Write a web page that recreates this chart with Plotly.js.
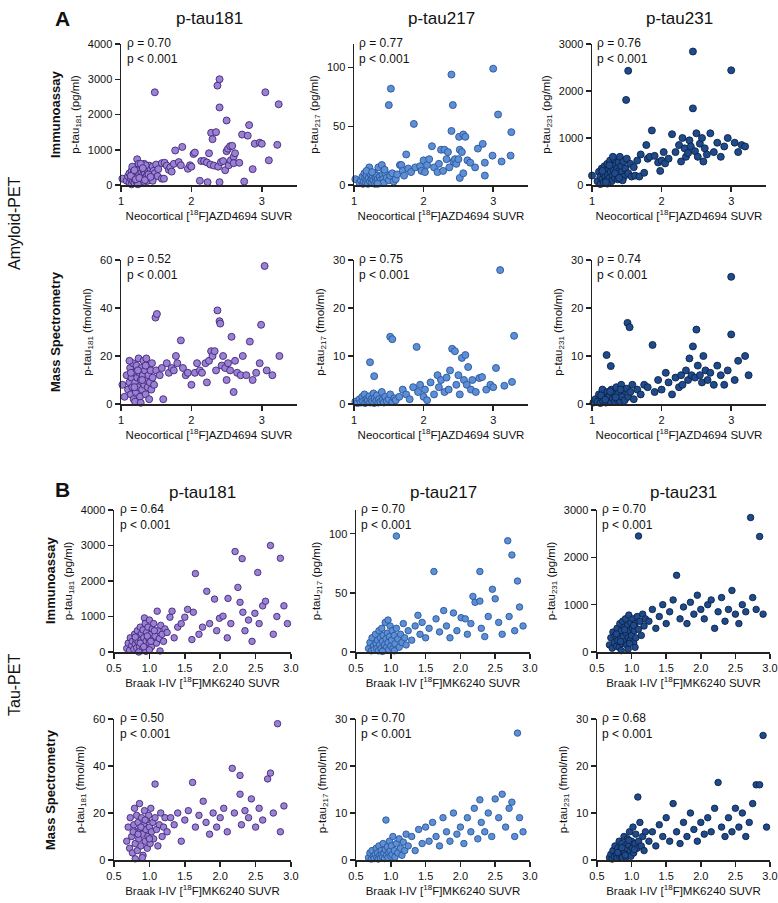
<!DOCTYPE html>
<html>
<head>
<meta charset="utf-8">
<script src="https://cdn.plot.ly/plotly-3.0.1.min.js"></script>
<style>
  body { margin: 0; background: #fff; }
  #chart { width: 778px; height: 903px; }
</style>
</head>
<body>
<div id="chart"></div>
<script>
// ================= Data: [SUVR, concentration] per participant =================
// Amyloid-PET (Neocortical [18F]AZD4694 SUVR)
const amyImm181 = [[1.02,180],[1.08,120],[1.1,250],[1.12,60],[1.12,330],[1.14,180],[1.15,20],[1.15,400],[1.16,280],[1.17,120],[1.18,220],[1.18,350],[1.19,60],[1.2,450],[1.2,180],[1.21,300],[1.22,100],[1.22,520],[1.23,730],[1.23,250],[1.24,380],[1.25,150],[1.25,600],[1.26,300],[1.27,80],[1.27,450],[1.28,220],[1.29,350],[1.3,150],[1.3,520],[1.31,280],[1.32,420],[1.33,90],[1.33,600],[1.34,330],[1.35,200],[1.36,480],[1.37,280],[1.38,120],[1.38,400],[1.4,550],[1.4,250],[1.41,350],[1.42,450],[1.43,180],[1.44,300],[1.45,520],[1.46,400],[1.48,330],[1.5,580],[1.52,250],[1.53,450],[1.16,520],[1.24,20],[1.35,560],[1.28,600],[1.45,120],[1.14,260],[1.19,420],[1.21,160],[1.26,200],[1.31,480],[1.34,140],[1.39,300],[1.42,230],
  [1.48,2630],[1.58,180],[1.61,180],[1.58,620],[1.62,630],[1.65,550],[1.68,430],[1.7,500],[1.72,380],[1.75,600],[1.77,980],[1.82,650],[1.85,560],[1.87,1080],[1.95,460],[1.98,560],[2.0,520],[2.03,880],[2.05,920],[2.12,120],[2.14,680],[2.18,680],[2.22,640],[2.23,80],[2.25,900],[2.27,580],[2.28,1480],[2.3,1300],[2.32,550],[2.35,1500],[2.37,2820],[2.38,520],[2.4,3000],[2.4,2200],[2.4,80],[2.42,650],[2.45,680],[2.48,420],[2.5,1830],[2.5,960],[2.52,1030],[2.53,560],[2.55,1100],[2.56,700],[2.58,1110],[2.6,800],[2.6,620],[2.62,900],[2.68,630],[2.72,1430],[2.75,100],[2.8,1400],[2.82,1700],[2.87,450],[2.9,1170],[2.97,1200],[3.0,1170],[3.05,2630],[3.1,700],[3.22,1140],[3.24,2290]];
const amyImm217 = [[1.02,5],[1.08,2],[1.1,4],[1.12,7],[1.13,1],[1.14,3],[1.15,10],[1.16,6],[1.17,2],[1.18,8],[1.19,4],[1.2,1],[1.21,6],[1.22,15],[1.23,3],[1.24,9],[1.25,5],[1.26,2],[1.27,7],[1.28,4],[1.29,10],[1.3,1],[1.31,6],[1.32,3],[1.33,8],[1.34,5],[1.35,15],[1.36,2],[1.37,7],[1.38,4],[1.4,17],[1.41,9],[1.42,5],[1.43,2],[1.45,10],[1.47,6],[1.5,4],[1.52,8],[1.55,10],[1.57,3],[1.18,12],[1.26,11],[1.34,1],[1.44,13],
  [1.5,68],[1.53,82],[1.6,5],[1.62,9],[1.66,17],[1.68,17],[1.7,12],[1.72,8],[1.75,26],[1.78,14],[1.82,11],[1.86,52],[1.88,15],[1.95,16],[1.97,12],[2.0,21],[2.02,11],[2.05,17],[2.08,22],[2.12,33],[2.15,15],[2.2,11],[2.22,18],[2.25,30],[2.28,12],[2.3,30],[2.33,22],[2.35,28],[2.37,15],[2.4,94],[2.4,46],[2.42,68],[2.43,20],[2.45,22],[2.47,18],[2.5,22],[2.51,41],[2.52,30],[2.52,6],[2.55,28],[2.57,43],[2.57,10],[2.6,41],[2.63,21],[2.67,19],[2.74,15],[2.78,31],[2.85,35],[2.88,8],[2.88,19],[2.99,25],[3.0,99],[3.07,60],[3.12,20],[3.25,25],[3.26,45]];
const amyImm231 = [[1.0,200],[1.08,80],[1.1,280],[1.12,20],[1.12,180],[1.14,350],[1.15,120],[1.16,250],[1.17,50],[1.18,400],[1.19,180],[1.2,300],[1.21,100],[1.22,450],[1.23,220],[1.24,350],[1.25,150],[1.26,520],[1.27,280],[1.28,80],[1.29,400],[1.3,200],[1.31,320],[1.32,550],[1.33,150],[1.34,420],[1.35,250],[1.36,350],[1.37,120],[1.38,480],[1.39,300],[1.4,600],[1.41,200],[1.42,400],[1.43,280],[1.45,500],[1.46,180],[1.48,350],[1.5,560],[1.52,250],[1.55,450],[1.57,180],[1.6,380],[1.22,30],[1.3,600],[1.44,100],[1.15,300],[1.2,60],[1.25,420],[1.33,250],[1.39,150],
  [1.49,1810],[1.52,2430],[1.62,200],[1.65,520],[1.68,180],[1.7,650],[1.75,260],[1.78,850],[1.8,560],[1.83,600],[1.86,1160],[1.9,620],[1.95,480],[1.98,300],[2.0,520],[2.03,700],[2.05,460],[2.1,560],[2.15,1080],[2.2,700],[2.25,850],[2.28,500],[2.3,1000],[2.33,780],[2.35,600],[2.38,680],[2.4,950],[2.42,820],[2.45,2840],[2.45,1630],[2.48,720],[2.5,1100],[2.52,600],[2.55,880],[2.58,1000],[2.6,500],[2.62,780],[2.65,650],[2.7,1100],[2.75,700],[2.8,900],[2.85,600],[2.9,820],[2.95,1000],[3.0,2440],[3.05,900],[3.1,700],[3.15,850],[3.2,820]];
const amyMs181 = [[1.02,8],[1.05,3],[1.08,12],[1.1,6],[1.12,9],[1.13,15],[1.14,4],[1.15,11],[1.16,7],[1.17,17],[1.18,2],[1.19,13],[1.2,9],[1.21,5],[1.22,16],[1.23,11],[1.24,7],[1.25,19],[1.26,13],[1.27,3],[1.28,10],[1.29,15],[1.3,6],[1.31,12],[1.32,18],[1.33,8],[1.34,14],[1.35,4],[1.36,10],[1.37,16],[1.38,7],[1.39,12],[1.4,2],[1.41,9],[1.42,14],[1.43,6],[1.45,11],[1.47,8],[1.5,14],[1.12,18],[1.2,1],[1.28,0.5],[1.36,19],[1.44,17],[1.14,13],[1.19,7],[1.24,14],[1.3,10],[1.35,16],
  [1.49,36],[1.51,37.5],[1.55,12],[1.58,15],[1.6,2],[1.65,17],[1.68,13],[1.72,15],[1.75,14],[1.78,20],[1.8,17],[1.85,26.5],[1.88,15],[1.92,12],[1.95,13],[2.0,8],[2.05,13],[2.08,17],[2.12,14],[2.15,13],[2.2,17],[2.22,9],[2.25,18],[2.28,22],[2.3,20],[2.33,22],[2.35,14],[2.37,39],[2.4,34.5],[2.41,33.5],[2.43,16],[2.45,20],[2.48,15],[2.5,10],[2.52,17],[2.55,14],[2.57,28],[2.6,5],[2.62,18],[2.65,13],[2.7,12],[2.73,20],[2.78,12],[2.83,26],[2.87,10],[2.92,13],[2.97,17],[2.99,33],[3.04,57.5],[3.07,14],[3.15,12],[3.25,20]];
const amyMs217 = [[1.02,0.5],[1.05,0.2],[1.08,1],[1.1,0.3],[1.12,1.5],[1.13,0.5],[1.15,2],[1.16,0.2],[1.18,1],[1.19,0.5],[1.2,0.8],[1.22,1.6],[1.23,0.3],[1.25,1],[1.26,0.5],[1.28,2.2],[1.29,0.2],[1.3,1.2],[1.32,0.6],[1.33,1.8],[1.35,0.3],[1.36,1],[1.38,0.5],[1.4,2.5],[1.41,0.8],[1.43,0.3],[1.45,1.5],[1.47,0.6],[1.5,1],[1.52,2],[1.55,0.4],[1.23,8.7],[1.29,5.8],[1.58,1.2],
  [1.52,14],[1.55,13.5],[1.6,0.8],[1.65,1.5],[1.7,3],[1.75,2],[1.8,1],[1.85,3.5],[1.9,11.9],[1.92,2.5],[1.95,4],[2.0,1.5],[2.02,3],[2.05,0.8],[2.1,4.5],[2.15,2],[2.2,6],[2.22,3.5],[2.25,5],[2.3,2.5],[2.33,5.5],[2.36,3],[2.38,7],[2.41,11.5],[2.45,11],[2.47,4],[2.5,6],[2.52,2],[2.55,9.6],[2.58,5],[2.6,10.2],[2.62,4],[2.64,7.7],[2.68,3],[2.7,5],[2.75,2.5],[2.8,5.4],[2.84,5.6],[2.9,3],[2.96,4],[3.0,3.5],[3.04,7.5],[3.1,27.9],[3.16,3.8],[3.27,4.6],[3.3,14.2]];
const amyMs231 = [[1.02,0.3],[1.05,1],[1.08,0.5],[1.1,2],[1.12,0.2],[1.14,1.2],[1.15,3],[1.16,0.6],[1.18,1.5],[1.2,0.3],[1.21,10.2],[1.22,2.5],[1.24,0.8],[1.25,1.8],[1.27,7.9],[1.27,0.4],[1.28,3],[1.3,1.2],[1.32,2],[1.33,0.5],[1.35,3.5],[1.36,1],[1.38,2.2],[1.4,0.6],[1.42,4],[1.43,1.5],[1.45,2.8],[1.47,0.8],[1.5,3.2],[1.52,1.5],[1.55,2.5],[1.58,4],[1.6,1],[1.13,1.8],[1.19,0.9],[1.26,2.6],[1.34,1.4],[1.41,3],
  [1.51,16.9],[1.54,16],[1.65,3],[1.7,2],[1.75,4],[1.8,3.5],[1.87,12.3],[1.9,2.5],[1.95,5],[2.0,3],[2.06,6.5],[2.1,4.5],[2.15,2],[2.2,5.5],[2.25,3.5],[2.28,6],[2.3,4],[2.35,7],[2.38,5],[2.4,9.5],[2.43,6],[2.45,12],[2.48,5.5],[2.5,15.5],[2.52,8],[2.55,6],[2.58,4.5],[2.6,10],[2.63,7],[2.66,5],[2.7,6.5],[2.75,4],[2.8,8],[2.85,6],[2.9,4],[2.95,7],[3.0,26.5],[3.0,14.5],[3.05,5],[3.1,9],[3.2,10],[3.25,6]];

// Tau-PET (Braak I-IV [18F]MK6240 SUVR)
const tauImm181 = [[0.68,100],[0.7,250],[0.72,50],[0.73,400],[0.75,180],[0.76,300],[0.78,80],[0.79,500],[0.8,220],[0.81,350],[0.82,120],[0.83,600],[0.84,280],[0.85,450],[0.86,150],[0.87,700],[0.88,330],[0.89,520],[0.9,80],[0.9,250],[0.91,620],[0.92,400],[0.93,960],[0.93,180],[0.94,800],[0.95,300],[0.96,550],[0.97,120],[0.98,700],[0.99,380],[1.0,250],[1.0,900],[1.02,500],[1.03,150],[1.04,650],[1.05,350],[1.06,800],[1.08,450],[1.1,250],[1.11,1150],[1.12,600],[1.14,380],[1.16,750],[1.18,500],[1.2,300],[1.22,650],[0.85,0],[0.95,20],[1.0,60],[1.15,30],[0.8,420],[0.87,250],[0.92,150],[0.97,450],[1.02,300],[1.07,600],
  [1.25,550],[1.29,980],[1.32,1150],[1.35,400],[1.4,700],[1.45,800],[1.5,980],[1.54,1200],[1.6,350],[1.62,1120],[1.65,2210],[1.7,500],[1.75,700],[1.81,1710],[1.85,800],[1.92,1490],[1.95,600],[1.99,950],[2.04,1010],[2.1,400],[2.11,1510],[2.15,800],[2.21,2830],[2.25,1820],[2.28,1400],[2.31,2630],[2.32,1120],[2.35,600],[2.4,900],[2.45,300],[2.49,1090],[2.53,2240],[2.55,800],[2.6,1300],[2.64,1430],[2.71,3000],[2.75,500],[2.8,1000],[2.85,2640],[2.9,1300],[2.95,800]];
const tauImm217 = [[0.68,3],[0.7,8],[0.72,1],[0.73,12],[0.75,5],[0.76,2],[0.78,15],[0.79,7],[0.8,3],[0.81,10],[0.82,1],[0.83,18],[0.84,6],[0.85,12],[0.86,3],[0.87,20],[0.88,9],[0.89,14],[0.9,2],[0.91,6],[0.92,25],[0.93,11],[0.94,4],[0.95,16],[0.96,8],[0.97,2],[0.98,13],[0.99,22],[1.0,5],[1.01,10],[1.02,18],[1.03,3],[1.05,14],[1.06,7],[1.08,98],[1.08,20],[1.1,11],[1.12,4],[1.14,15],[1.16,8],[1.18,24],[1.2,12],[0.88,0.5],[0.96,27],[1.05,1],[1.22,6],
  [1.25,18],[1.3,10],[1.35,22],[1.39,31],[1.42,15],[1.45,25],[1.5,12],[1.55,20],[1.62,68],[1.65,28],[1.7,17],[1.76,35],[1.8,22],[1.85,12],[1.9,33],[1.95,18],[2.01,29],[2.07,28],[2.1,15],[2.15,24],[2.18,47],[2.21,42],[2.28,43],[2.28,68],[2.3,20],[2.35,13],[2.4,30],[2.46,53],[2.5,45],[2.55,25],[2.6,15],[2.68,94],[2.7,30],[2.74,82],[2.78,18],[2.82,60],[2.85,38],[2.9,22]];
const tauImm231 = [[0.68,150],[0.7,300],[0.72,80],[0.73,420],[0.75,200],[0.76,350],[0.78,120],[0.79,500],[0.8,250],[0.81,380],[0.82,100],[0.83,600],[0.84,280],[0.85,450],[0.86,180],[0.87,650],[0.88,330],[0.89,520],[0.9,220],[0.91,700],[0.92,400],[0.93,150],[0.94,560],[0.95,300],[0.96,780],[0.97,450],[0.98,250],[0.99,620],[1.0,350],[1.01,500],[1.02,700],[1.03,200],[1.04,450],[1.05,600],[1.06,300],[1.08,750],[1.1,2450],[1.1,480],[1.12,650],[1.14,350],[1.16,800],[1.18,550],[1.2,700],[0.85,30],[0.95,60],[1.05,100],[0.78,380],[0.84,220],[0.9,470],[0.97,180],[1.03,560],
  [1.25,650],[1.3,900],[1.35,500],[1.4,750],[1.45,1000],[1.5,600],[1.55,850],[1.6,1100],[1.65,1620],[1.7,700],[1.75,950],[1.8,600],[1.85,1050],[1.9,800],[1.95,1200],[2.0,900],[2.05,700],[2.1,1000],[2.15,1100],[2.2,500],[2.25,850],[2.3,1150],[2.35,650],[2.4,900],[2.45,1300],[2.5,800],[2.55,600],[2.6,1000],[2.65,850],[2.72,2840],[2.75,1150],[2.8,900],[2.85,2440],[2.9,800]];
const tauMs181 = [[0.68,8],[0.7,14],[0.72,5],[0.73,18],[0.75,10],[0.76,3],[0.78,15],[0.79,22],[0.8,7],[0.81,12],[0.82,19],[0.83,4],[0.84,16],[0.85,9],[0.86,24],[0.87,13],[0.88,6],[0.89,18],[0.9,11],[0.91,2],[0.92,15],[0.93,21],[0.94,8],[0.95,13],[0.96,17],[0.97,5],[0.98,10],[0.99,19],[1.0,14],[1.01,7],[1.02,22],[1.03,12],[1.05,16],[1.06,9],[1.08,32.3],[1.08,18],[1.1,13],[1.12,6],[1.14,15],[1.16,20],[1.18,10],[1.2,14],[0.8,0.5],[0.9,1],[1.22,18],[0.77,12],[0.84,11],[0.88,14],[0.94,17],[1.0,9],
  [1.25,12],[1.3,18],[1.35,15],[1.4,20],[1.45,8],[1.5,17],[1.55,21],[1.61,33],[1.65,14],[1.7,19],[1.76,25],[1.8,16],[1.85,11],[1.9,20],[1.95,14],[2.0,18],[2.05,22],[2.1,12],[2.17,39],[2.2,20],[2.28,36],[2.28,28],[2.3,15],[2.35,21],[2.4,18],[2.44,26],[2.5,14],[2.55,22],[2.6,17],[2.67,34.5],[2.71,37],[2.75,20],[2.81,58],[2.85,12],[2.9,23]];
const tauMs217 = [[0.68,0.5],[0.7,1.5],[0.72,0.2],[0.73,2],[0.75,0.8],[0.76,0.3],[0.78,1.2],[0.79,2.5],[0.8,0.5],[0.81,1.5],[0.82,0.2],[0.83,3],[0.84,1],[0.85,0.4],[0.86,2],[0.87,1.2],[0.88,0.6],[0.89,3.5],[0.9,1.5],[0.91,0.3],[0.92,2.2],[0.93,8.5],[0.94,1],[0.95,2.8],[0.96,0.5],[0.97,1.6],[0.98,4],[0.99,2],[1.0,0.8],[1.01,3],[1.02,1.2],[1.03,5],[1.05,2],[1.06,0.6],[1.08,3.5],[1.1,1.5],[1.12,4.5],[1.14,2.5],[1.16,1],[1.18,3.8],[1.2,2],[1.22,5.5],
  [1.25,3],[1.3,5],[1.35,2],[1.4,6.5],[1.45,3.5],[1.5,7],[1.55,4],[1.6,8],[1.65,5],[1.7,3],[1.75,9],[1.8,6],[1.85,4],[1.9,10],[1.95,5.5],[2.0,7],[2.05,3.5],[2.1,9],[2.15,6],[2.2,11],[2.25,4.5],[2.28,12.8],[2.3,8],[2.35,6],[2.4,10],[2.45,5],[2.5,13],[2.55,9],[2.6,14],[2.65,7],[2.7,11],[2.74,12.3],[2.78,5],[2.82,27],[2.85,9],[2.9,6]];
const tauMs231 = [[0.68,0.5],[0.7,1.2],[0.72,0.2],[0.73,2],[0.75,0.8],[0.76,3],[0.78,1.2],[0.79,0.4],[0.8,2.5],[0.81,1.5],[0.82,4],[0.83,0.8],[0.84,2.2],[0.85,1],[0.86,3.5],[0.87,0.5],[0.88,2],[0.89,5],[0.9,1.5],[0.91,3],[0.92,0.6],[0.93,2.5],[0.94,4.5],[0.95,1.2],[0.96,3.2],[0.97,6],[0.98,2],[0.99,0.8],[1.0,4],[1.01,2.5],[1.02,7],[1.03,1.5],[1.05,3.5],[1.06,5.5],[1.08,2.5],[1.09,13.4],[1.1,4],[1.12,8],[1.14,3],[1.16,5],[1.18,2],[1.2,6],[0.8,1.6],[0.86,2.6],[0.91,1],[0.96,4.2],[1.04,2.2],
  [1.25,4],[1.3,6],[1.35,3],[1.4,7.5],[1.45,5],[1.5,9],[1.55,4],[1.6,12],[1.65,6],[1.7,3.5],[1.75,8],[1.8,5],[1.85,10],[1.9,6.5],[1.95,4],[2.0,8],[2.05,5.5],[2.1,9],[2.15,6],[2.2,11],[2.25,16.5],[2.3,7],[2.35,5],[2.4,9],[2.45,6],[2.5,11],[2.55,7],[2.6,10],[2.65,5],[2.7,8],[2.75,12],[2.8,16],[2.85,16],[2.9,26.5],[2.95,7]];

// Labels
const colTitles = ["p-tau181", "p-tau217", "p-tau231"];
const rhoValues = [["0.70", "0.77", "0.76"], ["0.52", "0.75", "0.74"], ["0.64", "0.70", "0.70"], ["0.50", "0.70", "0.68"]];
const immYTitles = ["p-tau<sub>181</sub> (pg/ml)", "p-tau<sub>217</sub> (pg/ml)", "p-tau<sub>231</sub> (pg/ml)"];
const msYTitles = ["p-tau<sub>181</sub> (fmol/ml)", "p-tau<sub>217</sub> (fmol/ml)", "p-tau<sub>231</sub> (fmol/ml)"];
const amyXTitle = "Neocortical [<sup>18</sup>F]AZD4694 SUVR";
const tauXTitle = "Braak I-IV [<sup>18</sup>F]MK6240 SUVR";

// ================= Layout geometry (pixels) =================
const W = 778, H = 903;
const FONT = "Arial, 'Liberation Sans', sans-serif";
const rowPx = [[44, 185], [260, 404], [510, 652], [719, 860]];
const colPxAmy = [[121, 297], [354, 528], [592, 766]];
const colPxTau = [[114, 291], [356, 530], [597, 770]];
const fills = ["#9b80d3", "#5d8fd6", "#1f4b8c"];
const edges = ["#3f2878", "#2a5698", "#0c2247"];

const immRanges = [[0, 4000], [0, 120], [0, 3000]];
const immTicks = [[0, 1000, 2000, 3000, 4000], [0, 50, 100], [0, 1000, 2000, 3000]];
const msRanges = [[0, 60], [0, 30], [0, 30]];
const msTicks = [[0, 20, 40, 60], [0, 10, 20, 30], [0, 10, 20, 30]];

const panelData = [
  [amyImm181, amyImm217, amyImm231],
  [amyMs181, amyMs217, amyMs231],
  [tauImm181, tauImm217, tauImm231],
  [tauMs181, tauMs217, tauMs231]
];

const traces = [];
const layout = {
  width: W, height: H,
  margin: { l: 0, r: 0, t: 0, b: 0 },
  paper_bgcolor: "#fff", plot_bgcolor: "#fff",
  showlegend: false,
  font: { family: FONT, color: "#111", size: 11 },
  annotations: []
};

const axisBase = {
  showgrid: false, zeroline: false, showline: true,
  linecolor: "#222", linewidth: 1.5,
  ticks: "outside", ticklen: 5, tickwidth: 1.5, tickcolor: "#222",
  tickfont: { family: FONT, size: 11, color: "#111" },
  fixedrange: true
};

for (let r = 0; r < 4; r++) {
  const isTau = r >= 2;
  const isMs = r % 2 === 1;
  const cols = isTau ? colPxTau : colPxAmy;
  for (let c = 0; c < 3; c++) {
    const i = r * 3 + c + 1;
    const sfx = i > 1 ? String(i) : "";
    const pts = panelData[r][c];

    traces.push({
      x: pts.map(p => p[0]),
      y: pts.map(p => p[1]),
      xaxis: "x" + sfx, yaxis: "y" + sfx,
      type: "scatter", mode: "markers",
      cliponaxis: false,
      marker: { size: isTau ? 6.5 : 7, color: fills[c], line: { color: edges[c], width: 0.9 } },
      hoverinfo: "x+y"
    });

    layout["xaxis" + sfx] = Object.assign({}, axisBase, {
      domain: [cols[c][0] / W, cols[c][1] / W],
      anchor: "y" + sfx,
      range: isTau ? [0.5, 3.0] : [1, 3.5],
      tickvals: isTau ? [0.5, 1, 1.5, 2, 2.5, 3] : [1, 2, 3],
      ticktext: isTau ? ["0.5", "1.0", "1.5", "2.0", "2.5", "3.0"] : ["1", "2", "3"],
      title: { text: isTau ? tauXTitle : amyXTitle, font: { family: FONT, size: 11.5, color: "#111" }, standoff: 6 }
    });
    layout["yaxis" + sfx] = Object.assign({}, axisBase, {
      domain: [1 - rowPx[r][1] / H, 1 - rowPx[r][0] / H],
      anchor: "x" + sfx,
      range: (isMs ? msRanges : immRanges)[c],
      tickvals: (isMs ? msTicks : immTicks)[c],
      title: { text: (isMs ? msYTitles : immYTitles)[c], font: { family: FONT, size: 11.5, color: "#111" }, standoff: 6 }
    });

    layout.annotations.push({
      xref: "x" + sfx + " domain", yref: "y" + sfx + " domain",
      x: 0.02, y: 1.07, xanchor: "left", yanchor: "top", align: "left",
      showarrow: false,
      text: "ρ = " + rhoValues[r][c] + "<br>p &lt; 0.001",
      font: { family: FONT, size: 12, color: "#111" }
    });

    // column titles above the first row of each block
    if (r === 0 || r === 2) {
      layout.annotations.push({
        xref: "paper", yref: "paper",
        x: (cols[c][0] + cols[c][1]) / 2 / W, y: 1 - (r === 0 ? 18 : 492) / H,
        xanchor: "center", yanchor: "middle", showarrow: false,
        text: colTitles[c], font: { family: FONT, size: 17, color: "#111" }
      });
    }
  }
}

// ================= Row / block labels =================
function paperLabel(text, px, py, size, bold, angle) {
  layout.annotations.push({
    xref: "paper", yref: "paper", x: px / W, y: 1 - py / H,
    xanchor: "center", yanchor: "middle", showarrow: false,
    textangle: angle || 0,
    text: bold ? "<b>" + text + "</b>" : text,
    font: { family: FONT, size: size, color: "#111" }
  });
}
paperLabel("A", 62, 18, 21, true, 0);
paperLabel("B", 62, 490, 21, true, 0);
paperLabel("Immunoassay", 55, 115, 13, true, -90);
paperLabel("Mass Spectrometry", 55, 332, 13, true, -90);
paperLabel("Immunoassay", 50, 581, 13, true, -90);
paperLabel("Mass Spectrometry", 50, 790, 13, true, -90);
paperLabel("Amyloid-PET", 14, 223, 16, false, -90);
paperLabel("Tau-PET", 14, 685, 16, false, -90);

Plotly.newPlot("chart", traces, layout, { displayModeBar: false, staticPlot: true });
</script>
</body>
</html>
